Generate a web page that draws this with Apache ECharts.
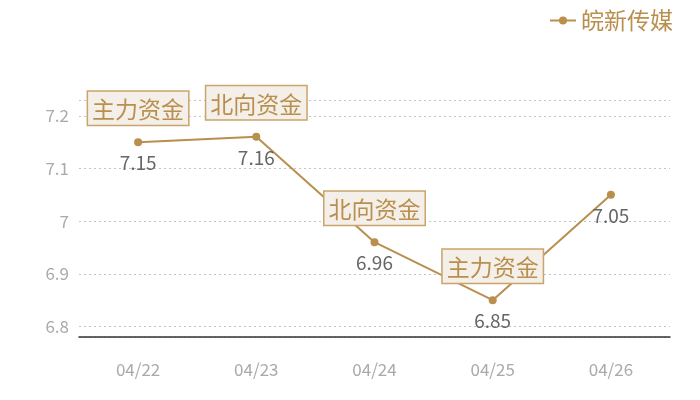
<!DOCTYPE html>
<html>
<head>
<meta charset="utf-8">
<script src="https://cdn.jsdelivr.net/npm/echarts@6/dist/echarts.min.js"></script>
<style>
html, body { margin: 0; padding: 0; background: #fff; }
#main { width: 700px; height: 400px; }
</style>
</head>
<body>
<div id="main"></div>
<script>
var dates = ['04/22', '04/23', '04/24', '04/25', '04/26'];
var prices = [7.15, 7.16, 6.96, 6.85, 7.05];
var tags = ['主力资金', '北向资金', '北向资金', '主力资金', ''];
var seriesName = '皖新传媒';

var chart = echarts.init(document.getElementById('main'));
var gold = '#b98f4e';
var font = '"Noto Sans CJK SC", "Noto Sans", sans-serif';

// points without a tag get no label box
var tagData = prices.map(function (v, i) {
	return tags[i] ? v : { value: v, label: { show: false } };
});

var option = {
	backgroundColor: '#fff',
	textStyle: { fontFamily: font },
	legend: {
		data: [seriesName],
		right: 22,
		top: 4,
		itemWidth: 26,
		itemHeight: 10,
		itemGap: 6,
		textStyle: { color: gold, fontSize: 23, fontFamily: font }
	},
	grid: {
		left: 79,
		right: 30,
		top: 100,
		bottom: 63
	},
	xAxis: {
		type: 'category',
		data: dates,
		axisTick: { show: false },
		axisLine: { lineStyle: { color: '#333', width: 1.5 } },
		axisLabel: { color: '#aaa', fontSize: 17, margin: 24 }
	},
	yAxis: {
		type: 'value',
		min: function (v) { return +(v.min - 0.07).toFixed(2); },
		max: function (v) { return +(v.max + 0.07).toFixed(2); },
		splitNumber: 5,
		showMinLabel: false,
		showMaxLabel: false,
		axisLine: { show: false },
		axisTick: { show: false },
		axisLabel: {
			color: '#aaa',
			fontSize: 17,
			margin: 10,
			formatter: function (v) { return String(+v.toFixed(2)); }
		},
		splitLine: { lineStyle: { color: '#c4c4c4', type: [2, 3], width: 1 } }
	},
	series: [{
		name: seriesName,
		type: 'line',
		data: prices,
		symbol: 'circle',
		symbolSize: 8,
		itemStyle: { color: gold },
		lineStyle: { color: gold, width: 2 },
		label: {
			show: true,
			position: 'bottom',
			distance: 7,
			color: '#666',
			fontSize: 19,
			fontFamily: font
		},
		z: 3
	}, {
		name: 'tags',
		type: 'line',
		data: tagData,
		symbol: 'circle',
		symbolSize: 1,
		showSymbol: true,
		itemStyle: { color: 'rgba(0,0,0,0)' },
		lineStyle: { opacity: 0 },
		silent: true,
		labelLayout: { hideOverlap: false },
		label: {
			show: true,
			position: 'top',
			distance: 17,
			formatter: function (p) { return tags[p.dataIndex]; },
			color: gold,
			fontSize: 23,
			lineHeight: 25,
			fontFamily: font,
			backgroundColor: '#f4efe8',
			borderColor: '#c9a46c',
			borderWidth: 1.5,
			padding: [5, 4, 3, 4]
		},
		z: 4
	}]
};

chart.setOption(option);

window.onresize = function () {
	chart.resize();
};
</script>
</body>
</html>
